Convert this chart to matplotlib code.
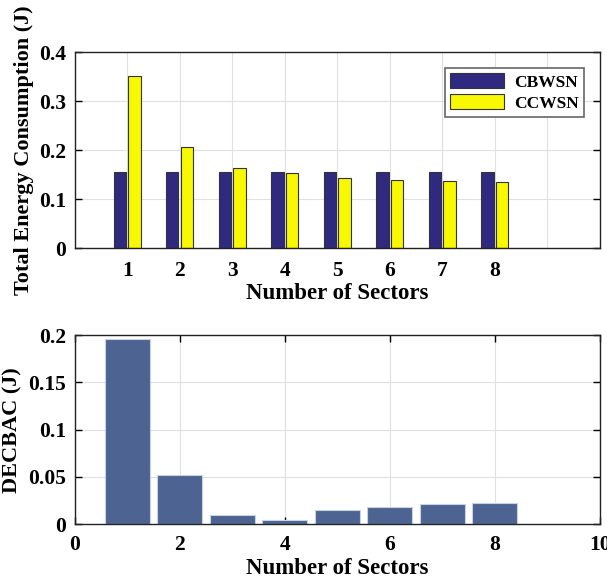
import numpy as np
import matplotlib.pyplot as plt

plt.rcParams['font.family'] = ['Liberation Serif', 'DejaVu Serif']
plt.rcParams['font.weight'] = 'bold'
plt.rcParams['axes.labelweight'] = 'bold'

sectors = [1, 2, 3, 4, 5, 6, 7, 8]
cbwsn = [0.156, 0.156, 0.156, 0.156, 0.156, 0.156, 0.156, 0.156]
ccwsn = [0.351, 0.206, 0.164, 0.154, 0.143, 0.139, 0.137, 0.136]
decbac = [0.196, 0.0516, 0.0092, 0.0041, 0.0144, 0.0185, 0.0212, 0.0219]


def style_axes(ax):
    ax.grid(True, color='#e0e0e0', linewidth=0.8)
    ax.set_axisbelow(True)
    ax.tick_params(direction='in', top=True, right=True, length=5,
                   labelsize=15.5, width=1, pad=6)
    for s in ax.spines.values():
        s.set_linewidth(1.0)
        s.set_color('#222222')


fig = plt.figure(figsize=(6.07, 5.81), dpi=100)

# energy per sector for both schemes
ax1 = fig.add_axes([0.123, 0.573, 0.865, 0.337])
x = np.array(sectors)
w = 0.235
ax1.bar(x - 0.14, cbwsn, w, color='#2f2a80', edgecolor='#333333',
        linewidth=0.8, label='CBWSN')
ax1.bar(x + 0.14, ccwsn, w, color='#f8f800', edgecolor='#333333',
        linewidth=0.8, label='CCWSN')
ax1.set_xlim(0, 10)
ax1.set_ylim(0, 0.4)
ax1.set_xticks(range(1, 10))
ax1.set_xticklabels([str(s) for s in sectors] + [''])
ax1.set_yticks([0, 0.1, 0.2, 0.3, 0.4])
ax1.set_yticklabels(['0', '0.1', '0.2', '0.3', '0.4'])
style_axes(ax1)
ax1.tick_params(axis='x', bottom=False, top=False, pad=9)
ax1.set_xlabel('Number of Sectors', fontsize=16.5, labelpad=2)
ax1.set_ylabel('Total Energy Consumption (J)', fontsize=16, labelpad=4)
leg = ax1.legend(loc='upper right', bbox_to_anchor=(0.97, 0.92),
                 fontsize=12.5, handlelength=3.1, handleheight=0.95,
                 fancybox=False, framealpha=1, edgecolor='#666666',
                 borderpad=0.3, labelspacing=0.2, handletextpad=0.6,
                 borderaxespad=0.0)
leg.get_frame().set_linewidth(1.2)

# DECBAC energy per sector
ax2 = fig.add_axes([0.123, 0.098, 0.865, 0.325])
ax2.bar(sectors, decbac, 0.86, color='#4d6492', edgecolor='#c8d2e6',
        linewidth=0.8)
ax2.set_xlim(0, 10)
ax2.set_ylim(0, 0.2)
ax2.set_xticks([0, 2, 4, 6, 8, 10])
ax2.set_yticks([0, 0.05, 0.1, 0.15, 0.2])
ax2.set_yticklabels(['0', '0.05', '0.1', '0.15', '0.2'])
style_axes(ax2)
ax2.tick_params(axis='x', pad=8)
ax2.set_xlabel('Number of Sectors', fontsize=16.5, labelpad=2)
ax2.set_ylabel('DECBAC (J)', fontsize=16, labelpad=4)

fig.savefig('out.png', dpi=100)
